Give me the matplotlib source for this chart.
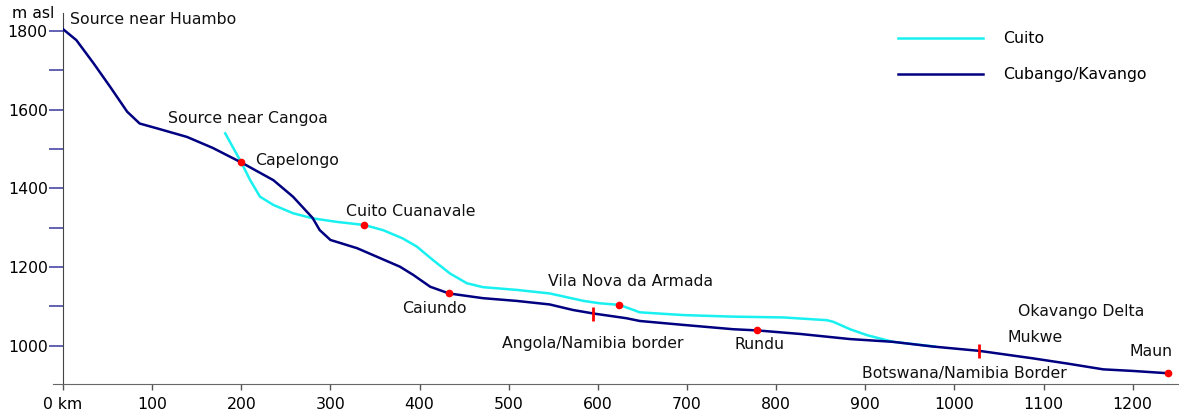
import matplotlib
matplotlib.use("Agg")
import matplotlib.pyplot as plt

# river profiles, km from source vs elevation (m asl)
kav_km = [0, 15, 34, 53, 72, 86, 105, 139, 168, 200, 236, 258, 280, 288, 300, 330,
          378, 393, 412, 433, 471, 509, 546, 572, 595, 632, 647, 696, 752, 779, 827,
          883, 931, 976, 1028, 1088, 1126, 1167, 1200, 1240]
kav_elev = [1805, 1777, 1719, 1658, 1595, 1565, 1553, 1531, 1503, 1466, 1421, 1379,
            1325, 1294, 1269, 1248, 1201, 1180, 1150, 1133, 1121, 1114, 1105, 1091,
            1082, 1070, 1063, 1053, 1042, 1039, 1030, 1017, 1010, 998, 987, 968, 955,
            940, 936, 930]

cuito_km = [182, 200, 210, 221, 236, 258, 280, 307, 338, 359, 381, 397, 415, 434,
            453, 471, 509, 546, 584, 602, 624, 640, 647, 696, 752, 808, 857, 864,
            883, 902, 931, 978]
cuito_elev = [1540, 1466, 1421, 1379, 1358, 1337, 1324, 1315, 1307, 1294, 1273, 1252,
              1218, 1184, 1159, 1149, 1142, 1133, 1114, 1108, 1104, 1091, 1085, 1078,
              1074, 1072, 1065, 1061, 1042, 1027, 1010, 998]

# places marked with a dot
dot_km = [200, 338, 433, 624, 779, 1240]
dot_elev = [1466, 1307, 1133, 1104, 1039, 930]
# borders marked with a bar
bar_km = [595, 1028]
bar_elev = [1082, 987]

labels = ["Source near Huambo", "Source near Cangoa", "Capelongo", "Cuito Cuanavale",
          "Caiundo", "Vila Nova da Armada", "Angola/Namibia border", "Rundu",
          "Okavango Delta", "Mukwe", "Maun", "Botswana/Namibia Border"]
label_x = [8, 118, 215, 318, 381, 544, 493, 753, 1071, 1060, 1196, 896]
label_y = [1829, 1578, 1472, 1341, 1095, 1163, 1006, 1002, 1086, 1021, 985, 930]

xticks = [0, 100, 200, 300, 400, 500, 600, 700, 800, 900, 1000, 1100, 1200]
xticklabels = ["0 km"] + [str(v) for v in xticks[1:]]
yticks = [1000, 1200, 1400, 1600, 1800]

fs = 11.3
plt.rcParams['font.family'] = 'DejaVu Sans'

fig = plt.figure(figsize=(11.79, 4.17), dpi=100)
ax = fig.add_axes([63 / 1179, (417 - 384.3) / 417, (1179 - 63) / 1179, (384.3 - 13) / 417])

ax.plot(cuito_km, cuito_elev, color="#19f0f0", lw=1.8, label="Cuito", zorder=2)
ax.plot(kav_km, kav_elev, color="#000080", lw=1.8, label="Cubango/Kavango", zorder=3)
ax.plot(dot_km, dot_elev, "o", color="red", ms=4.5, zorder=4)
ax.plot(bar_km, bar_elev, "|", color="red", ms=10, mew=2, zorder=4)

for t, x, y in zip(labels, label_x, label_y):
    ax.text(x, y, t, fontsize=fs, ha="left", va="center", color="#111111")

ax.set_xlim(0, 1252)
ax.set_ylim(902, 1846)

ax.set_xticks(xticks)
ax.set_xticklabels(xticklabels, fontsize=fs)
ax.set_yticks(yticks)
ax.set_yticklabels([str(v) for v in yticks], fontsize=fs)
ax.set_yticks([1100, 1300, 1500, 1700], minor=True)
ax.tick_params(axis="y", which="both", length=10, width=1.2, color="#4848a8", pad=1)
ax.tick_params(axis="x", length=4, width=1, color="#555555", pad=5)

for s in ["top", "right"]:
    ax.spines[s].set_visible(False)
ax.spines["left"].set_color("#444444")
ax.spines["bottom"].set_color("#666666")
ax.spines["bottom"].set_bounds(-11, 1252)

fig.text(12 / 1179, 1 - 14 / 417, "m asl", fontsize=fs, va="center", ha="left")

ax.legend(loc="upper left", bbox_to_anchor=(898 / 1179, 1 - 31 / 417),
          bbox_transform=fig.transFigure, frameon=False, fontsize=fs,
          borderpad=0, borderaxespad=0, handlelength=5.4, handletextpad=1.3,
          labelspacing=1.35)

fig.savefig("out.png", dpi=100)
